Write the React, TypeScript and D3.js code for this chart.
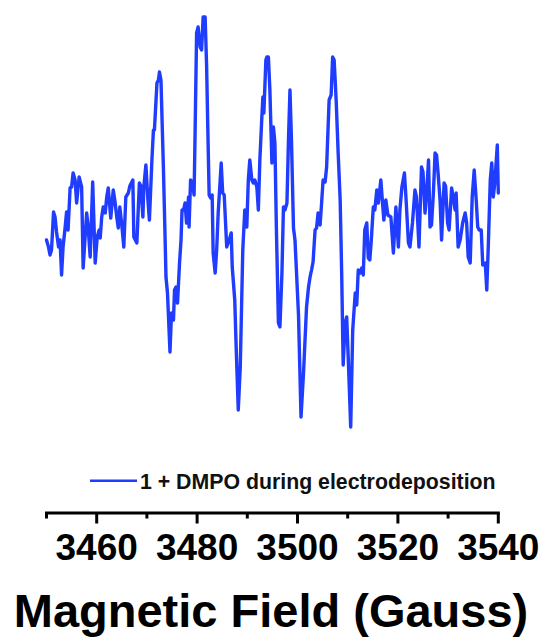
import React from "react";
import * as d3 from "d3";

// Magnetic field (Gauss)
const field: number[] = [
  3450.0, 3450.4, 3450.7, 3451.0, 3451.4, 3451.7, 3452.0, 3452.4, 3452.7, 3453.0,
  3453.3, 3453.7, 3454.0, 3454.3, 3454.7, 3455.0, 3455.3, 3455.7, 3456.0, 3456.5,
  3457.0, 3457.3, 3458.0, 3458.3, 3458.7, 3459.2, 3459.7, 3460.1, 3460.5, 3460.7,
  3461.0, 3461.3, 3461.7, 3462.0, 3462.3, 3462.8, 3463.3, 3463.6, 3464.0, 3464.3,
  3464.6, 3465.0, 3465.4, 3465.8, 3466.3, 3466.6, 3467.2, 3467.4, 3468.0, 3468.5,
  3468.8, 3469.2, 3469.4, 3469.8, 3470.2, 3470.5, 3471.0, 3471.3, 3471.5, 3472.0,
  3472.3, 3472.5, 3472.8, 3473.3, 3473.6, 3473.8, 3474.1, 3474.6, 3474.9, 3475.3,
  3475.5, 3475.8, 3476.1, 3476.5, 3476.8, 3477.0, 3477.3, 3477.6, 3477.9, 3478.3,
  3478.4, 3478.7, 3479.1, 3479.4, 3479.6, 3479.9, 3480.2, 3480.6, 3480.9, 3481.2,
  3481.6, 3481.9, 3482.1, 3482.4, 3482.7, 3483.0, 3483.2, 3483.6, 3483.9, 3484.2,
  3484.6, 3484.8, 3485.1, 3485.4, 3485.9, 3486.4, 3486.8, 3487.0, 3487.5, 3487.8,
  3488.2, 3488.6, 3489.1, 3489.5, 3489.9, 3490.2, 3490.5, 3490.9, 3491.2, 3491.5,
  3491.9, 3492.2, 3492.5, 3492.9, 3493.1, 3493.3, 3493.7, 3493.9, 3494.2, 3494.5,
  3494.9, 3495.2, 3495.5, 3495.8, 3496.2, 3496.5, 3496.9, 3497.2, 3497.5, 3497.9,
  3498.2, 3498.5, 3498.8, 3499.2, 3499.5, 3500.2, 3500.7, 3501.2, 3501.8, 3502.2,
  3502.5, 3502.8, 3503.1, 3503.5, 3503.8, 3504.1, 3504.5, 3504.8, 3505.1, 3505.5,
  3505.8, 3506.3, 3506.7, 3507.0, 3507.3, 3507.7, 3508.1, 3508.5, 3508.8, 3509.1,
  3509.5, 3509.8, 3510.1, 3510.6, 3511.0, 3511.5, 3511.8, 3512.1, 3512.5, 3512.8,
  3513.1, 3513.4, 3513.8, 3514.1, 3514.4, 3514.7, 3515.1, 3515.4, 3515.8, 3516.1,
  3516.6, 3517.0, 3517.2, 3517.6, 3518.0, 3518.6, 3519.1, 3519.6, 3520.1, 3520.4,
  3520.8, 3521.3, 3521.6, 3522.1, 3522.4, 3522.9, 3523.4, 3523.7, 3524.2, 3524.7,
  3525.0, 3525.4, 3525.7, 3526.1, 3526.4, 3526.7, 3527.1, 3527.4, 3527.7, 3528.0,
  3528.4, 3528.7, 3529.2, 3529.5, 3529.9, 3530.2, 3530.7, 3531.0, 3531.4, 3531.6,
  3532.0, 3532.4, 3532.9, 3533.4, 3533.7, 3534.0, 3534.4, 3534.8, 3535.2, 3535.6,
  3535.9, 3536.2, 3536.6, 3536.9, 3537.4, 3537.7, 3538.0, 3538.4, 3538.7, 3539.0,
  3539.3, 3539.8, 3540.0,
];

// EPR signal intensity (a.u.)
const intensity: number[] = [
  10, 3, -5, 0, 38, 33, 18, 3, 10, -25,
  3, 22, 38, 20, 62, 63, 77, 70, 47, 73,
  63, -18, 37, 23, -7, 68, -13, 13, 20, 12,
  33, 43, 37, 53, 62, 32, 60, 50, 33, 22,
  43, 25, 3, 53, 57, 64, 70, 13, 7, 67,
  64, 33, 64, 85, 50, 30, 90, 120, 120, 167,
  170, 178, 170, 80, 17, -27, -43, -102, -63, -70,
  -40, -37, -53, -13, 10, 40, 40, 47, 27, 53,
  23, 70, 67, 55, 117, 217, 223, 203, 200, 233,
  233, 183, 130, 55, 52, 55, -3, -23, 0, 37,
  70, 87, 57, 55, 3, 10, 17, -17, -50, -100,
  -160, -117, 0, 40, 23, 70, 90, 70, 67, 70,
  63, 40, 90, 133, 153, 137, 190, 193, 193, 160,
  87, 123, 107, 20, -73, -77, -23, 43, 40, 47,
  110, 160, 110, 22, 10, -65, -167, -123, -57, -37,
  -27, -20, -12, 20, 22, 37, 25, 47, 70, 68,
  83, 150, 155, 193, 190, 150, 97, 50, -23, -115,
  -73, -67, -107, -177, -80, -43, -55, -20, -23, -18,
  -25, 20, 27, -8, -10, 10, 43, 40, 60, 47,
  70, 43, 30, 50, 35, 33, -3, 43, 3, 40,
  63, 77, 53, 7, 3, 27, 60, 53, 3, 83,
  78, 37, 55, 90, 23, 25, 60, 97, 95, 77,
  50, 10, 67, 64, 27, 20, 62, 53, 40, 57,
  3, 10, 27, 37, 27, -7, -13, 53, 80, 50,
  23, 20, 20, -15, -13, -40, 3, 70, 87, 53,
  67, 105, 57,
];

const majorTicks: number[] = [3460, 3480, 3500, 3520, 3540];
const minorTicks: number[] = [3450, 3470, 3490, 3510, 3530];
const tickLabels: string[] = ["3460", "3480", "3500", "3520", "3540"];
const legendLabel = "1 + DMPO during electrodeposition";
const xTitle = "Magnetic Field (Gauss)";

const BLUE = "#1f3cff";
const FONT = "'Liberation Sans', Arial, Helvetica, sans-serif";

export default function App() {
  const W = 541;
  const H = 639;
  const x = d3.scaleLinear().domain([3450, 3540]).range([46.5, 498.3]);
  const y = d3.scaleLinear().domain([-200, 250]).range([450, 0]);
  const axisY = 513;

  const pts: [number, number][] = field.map((f, i) => [f, intensity[i]]);
  const line = d3
    .line<[number, number]>()
    .x((d) => x(d[0]))
    .y((d) => y(d[1]));

  return (
    <svg
      width={W}
      height={H}
      style={{ position: "absolute", left: 0, top: 0, background: "#fff" }}
      fontFamily={FONT}
    >
      <rect x={0} y={0} width={W} height={H} fill="#fff" />
      <path
        d={line(pts) || ""}
        fill="none"
        stroke={BLUE}
        strokeWidth={3.4}
        strokeLinejoin="round"
        strokeLinecap="round"
      />
      {/* legend */}
      <line x1={90} x2={137} y1={480.7} y2={480.7} stroke={BLUE} strokeWidth={2.5} />
      <text x={140} y={488.5} fontSize={21.3} fontWeight="bold" fill="#111">
        {legendLabel}
      </text>
      {/* x axis */}
      <line
        x1={x(3450) - 1.5}
        x2={x(3540) + 1.5}
        y1={axisY}
        y2={axisY}
        stroke="#000"
        strokeWidth={3}
      />
      {minorTicks.map((t) => (
        <line key={"m" + t} x1={x(t)} x2={x(t)} y1={axisY} y2={axisY + 5.5} stroke="#000" strokeWidth={3} />
      ))}
      {majorTicks.map((t, i) => (
        <g key={"M" + t}>
          <line x1={x(t)} x2={x(t)} y1={axisY} y2={axisY + 10.5} stroke="#000" strokeWidth={3} />
          <text
            x={x(t)}
            y={560}
            textAnchor="middle"
            fontSize={37}
            fontWeight="bold"
            fill="#000"
          >
            {tickLabels[i]}
          </text>
        </g>
      ))}
      <text x={271} y={627} textAnchor="middle" fontSize={47} fontWeight="bold" fill="#000">
        {xTitle}
      </text>
    </svg>
  );
}
